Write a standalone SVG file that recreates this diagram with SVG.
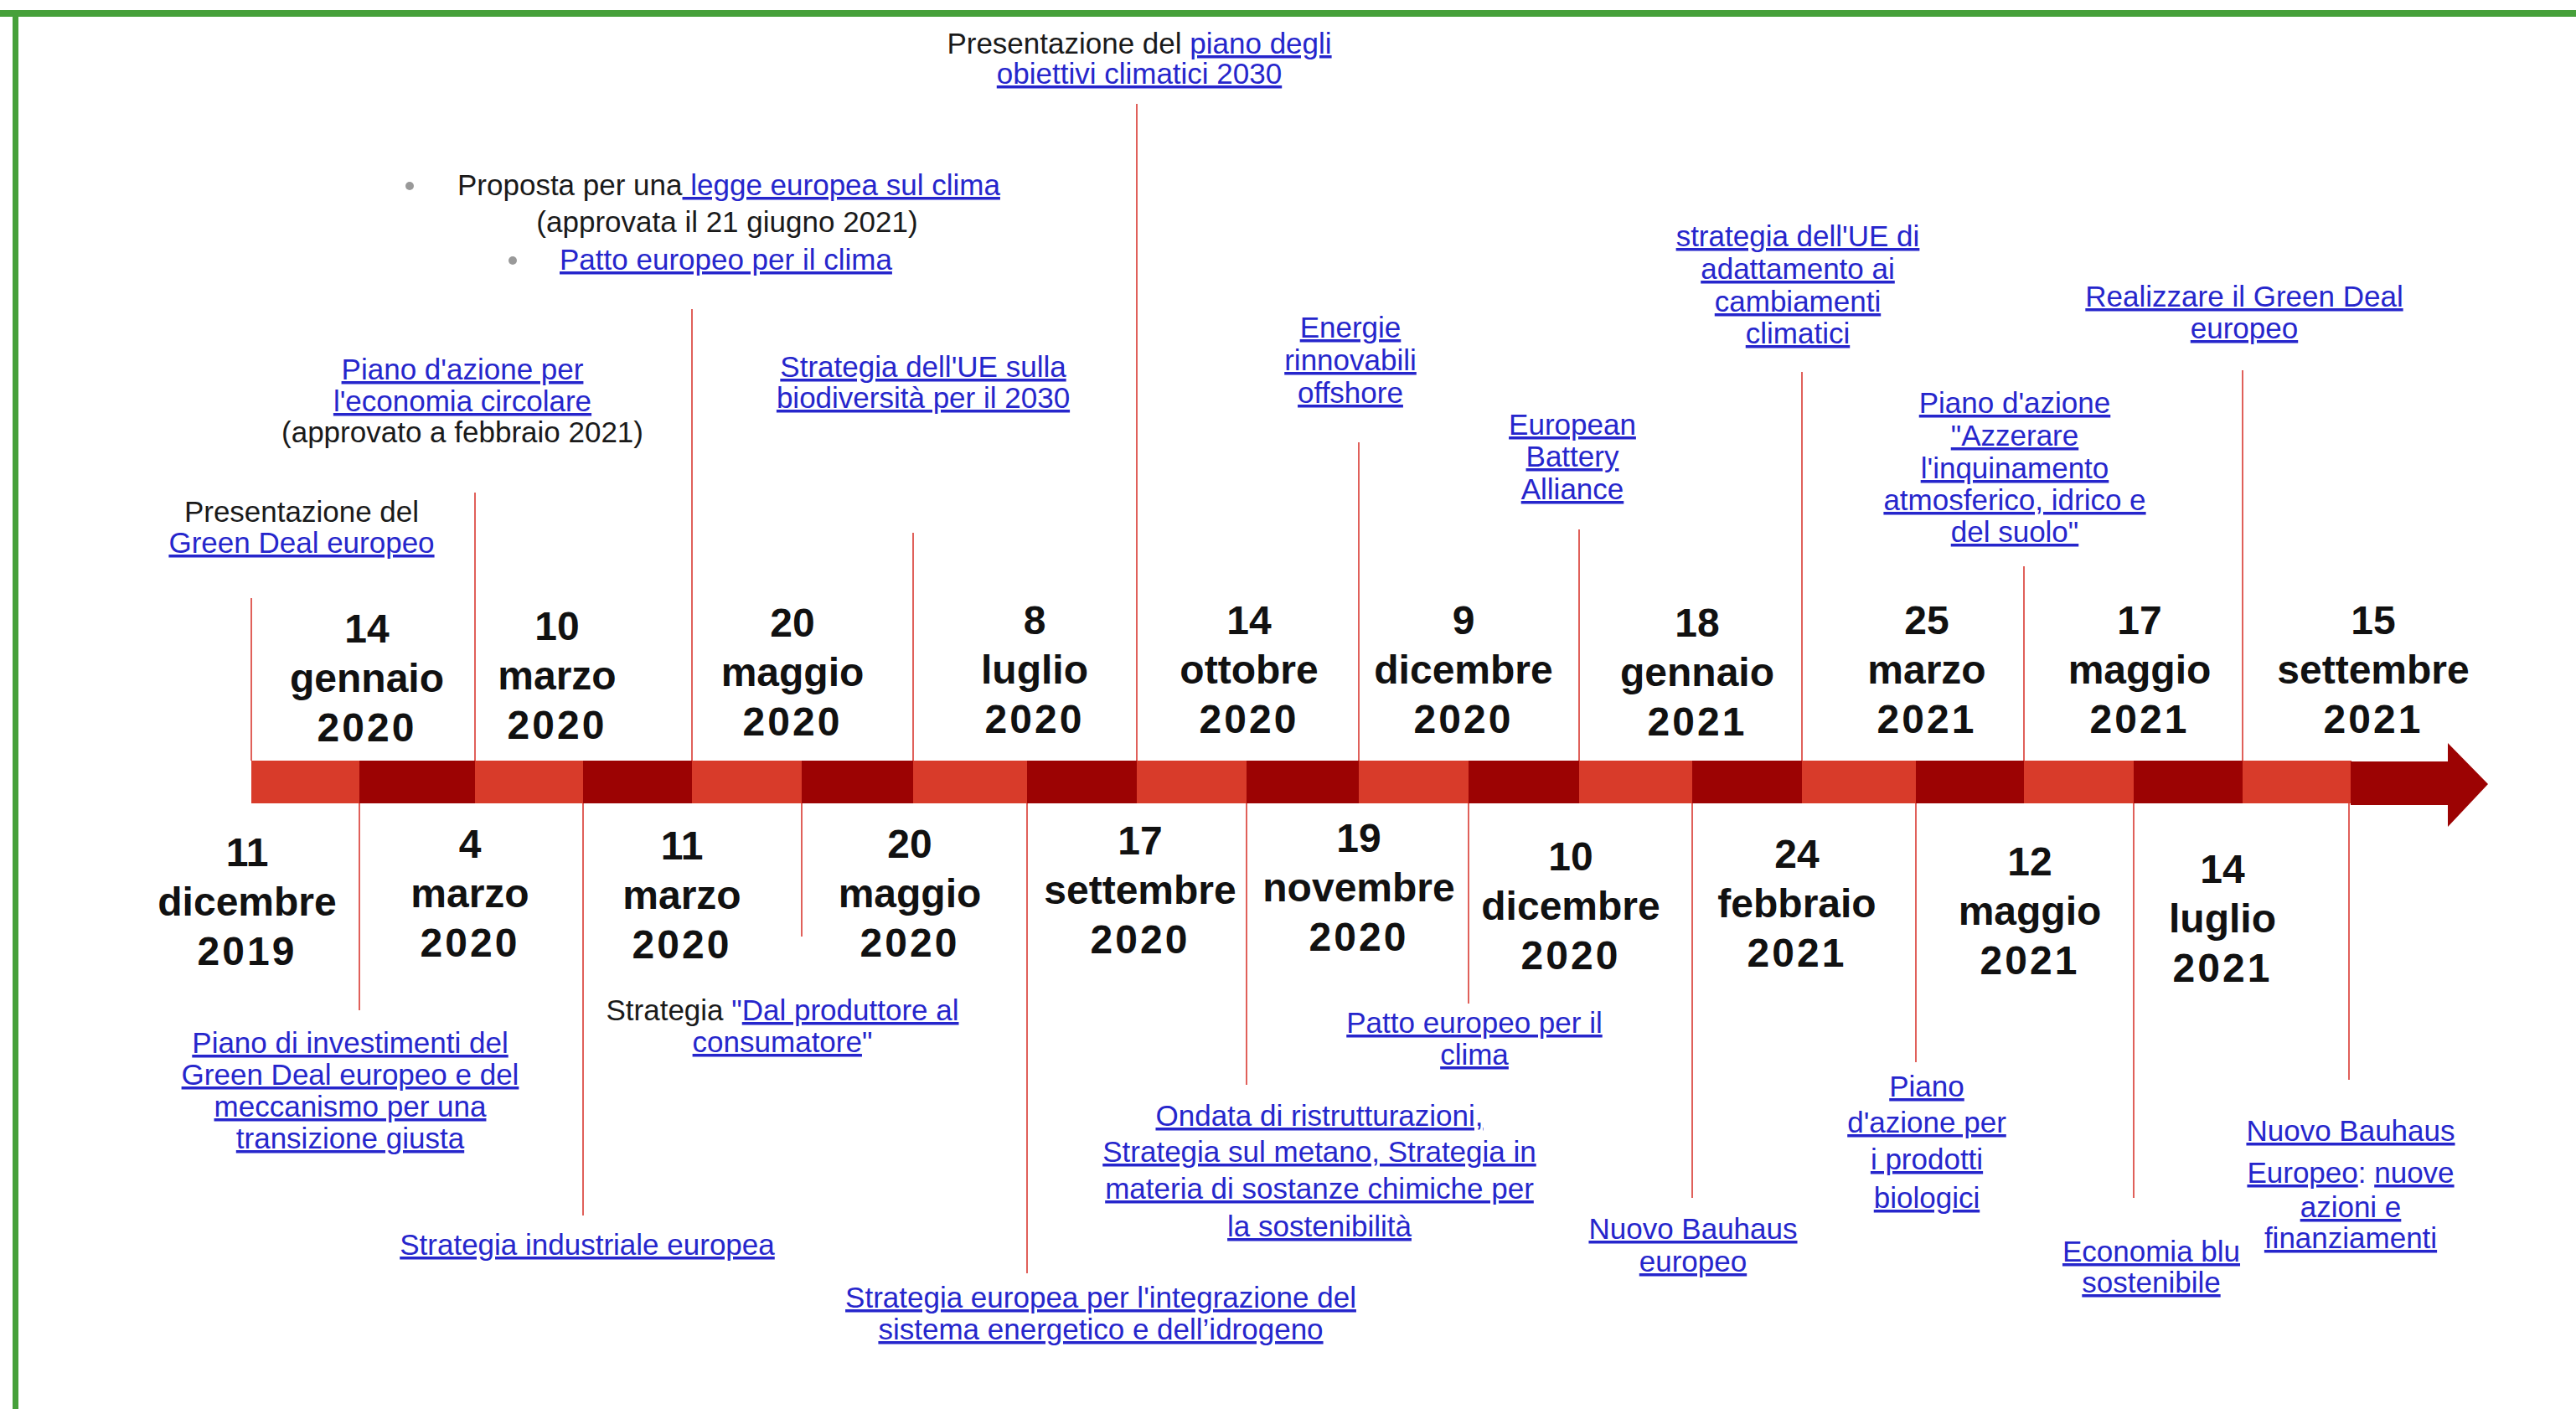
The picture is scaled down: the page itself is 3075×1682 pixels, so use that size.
<svg xmlns="http://www.w3.org/2000/svg" width="3075" height="1682" viewBox="0 0 3075 1682">
<style>
.d{font-family:"Liberation Sans",Arial,sans-serif;font-weight:bold;font-size:48px;fill:#111;text-anchor:middle}
.y{letter-spacing:3px}
.t{font-family:"Liberation Sans",Arial,sans-serif;font-size:35px;fill:#1a1a1a;text-anchor:middle}
.s{text-anchor:start}
.l{fill:#2626cc;text-decoration:underline}
.q{fill:#2626cc}
.tick{stroke:#e0605a;stroke-width:2;fill:none}
.lt{fill:#d83b2a}
.dk{fill:#9c0303}
</style>
<rect width="3075" height="1682" fill="#fff"/>
<g id="frame" fill="#46a03a">
<rect x="0" y="12" width="3075" height="8"/>
<rect x="15" y="12" width="7" height="1670"/>
</g>
<g id="timeline-bar">
<rect class="lt" x="300" y="908" width="130" height="51"/>
<rect class="dk" x="429" y="908" width="139" height="51"/>
<rect class="lt" x="567" y="908" width="130" height="51"/>
<rect class="dk" x="696" y="908" width="131" height="51"/>
<rect class="lt" x="826" y="908" width="132" height="51"/>
<rect class="dk" x="957" y="908" width="134" height="51"/>
<rect class="lt" x="1090" y="908" width="137" height="51"/>
<rect class="dk" x="1226" y="908" width="132" height="51"/>
<rect class="lt" x="1357" y="908" width="132" height="51"/>
<rect class="dk" x="1488" y="908" width="135" height="51"/>
<rect class="lt" x="1622" y="908" width="132" height="51"/>
<rect class="dk" x="1753" y="908" width="133" height="51"/>
<rect class="lt" x="1885" y="908" width="136" height="51"/>
<rect class="dk" x="2020" y="908" width="132" height="51"/>
<rect class="lt" x="2151" y="908" width="137" height="51"/>
<rect class="dk" x="2287" y="908" width="130" height="51"/>
<rect class="lt" x="2416" y="908" width="132" height="51"/>
<rect class="dk" x="2547" y="908" width="131" height="51"/>
<rect class="lt" x="2677" y="908" width="130" height="51"/>
<polygon class="dk" points="2806,909 2922,909 2922,887 2970,936 2922,987 2922,961 2806,961"/>
</g>
<g id="connectors">
<line class="tick" x1="300" y1="908" x2="300" y2="714"/>
<line class="tick" x1="429" y1="959" x2="429" y2="1206"/>
<line class="tick" x1="567" y1="908" x2="567" y2="588"/>
<line class="tick" x1="696" y1="959" x2="696" y2="1451"/>
<line class="tick" x1="826" y1="908" x2="826" y2="369"/>
<line class="tick" x1="957" y1="959" x2="957" y2="1118"/>
<line class="tick" x1="1090" y1="908" x2="1090" y2="636"/>
<line class="tick" x1="1226" y1="959" x2="1226" y2="1520"/>
<line class="tick" x1="1357" y1="908" x2="1357" y2="124"/>
<line class="tick" x1="1488" y1="959" x2="1488" y2="1295"/>
<line class="tick" x1="1622" y1="908" x2="1622" y2="528"/>
<line class="tick" x1="1753" y1="959" x2="1753" y2="1198"/>
<line class="tick" x1="1885" y1="908" x2="1885" y2="632"/>
<line class="tick" x1="2020" y1="959" x2="2020" y2="1430"/>
<line class="tick" x1="2151" y1="908" x2="2151" y2="444"/>
<line class="tick" x1="2287" y1="959" x2="2287" y2="1268"/>
<line class="tick" x1="2416" y1="908" x2="2416" y2="676"/>
<line class="tick" x1="2547" y1="959" x2="2547" y2="1430"/>
<line class="tick" x1="2677" y1="908" x2="2677" y2="442"/>
<line class="tick" x1="2804" y1="959" x2="2804" y2="1289"/>
</g>

<g id="ev-2019-12-11">
<text class="d" x="295" y="1034">11<tspan x="295" dy="59">dicembre</tspan><tspan class="y" x="295" dy="59">2019</tspan></text>
<text class="t" x="360" y="623">Presentazione del<tspan x="360" dy="37" class="l">Green Deal europeo</tspan></text>
</g>
<g id="ev-2020-01-14">
<text class="d" x="438" y="767">14<tspan x="438" dy="59">gennaio</tspan><tspan class="y" x="438" dy="59">2020</tspan></text>
<text class="t" x="418" y="1257"><tspan class="l">Piano di investimenti del</tspan><tspan x="418" dy="38" class="l">Green Deal europeo e del</tspan><tspan x="418" dy="38" class="l">meccanismo per una</tspan><tspan x="418" dy="38" class="l">transizione giusta</tspan></text>
</g>
<g id="ev-2020-03-04">
<text class="d" x="561" y="1024">4<tspan x="561" dy="59">marzo</tspan><tspan class="y" x="561" dy="59">2020</tspan></text>
<text class="t" x="552" y="453"><tspan class="l">Piano d'azione per</tspan><tspan x="552" dy="38" class="l">l'economia circolare</tspan><tspan x="552" dy="37">(approvato a febbraio 2021)</tspan></text>
</g>
<g id="ev-2020-03-10">
<text class="d" x="665" y="764">10<tspan x="665" dy="59">marzo</tspan><tspan class="y" x="665" dy="59">2020</tspan></text>
<text class="t" x="701" y="1498"><tspan class="l">Strategia industriale europea</tspan></text>
</g>
<g id="ev-2020-03-11">
<text class="d" x="814" y="1026">11<tspan x="814" dy="59">marzo</tspan><tspan class="y" x="814" dy="59">2020</tspan></text>
<circle cx="489" cy="222" r="5" fill="#999"/>
<circle cx="612" cy="311" r="5" fill="#999"/>
<text class="t s" x="546" y="233">Proposta per una<tspan class="l"> legge europea sul clima</tspan></text>
<text class="t" x="868" y="277">(approvata il 21 giugno 2021)</text>
<text class="t s" x="668" y="322"><tspan class="l">Patto europeo per il clima</tspan></text>
</g>
<g id="ev-2020-05-20a">
<text class="d" x="946" y="760">20<tspan x="946" dy="59">maggio</tspan><tspan class="y" x="946" dy="59">2020</tspan></text>
<text class="t" x="934" y="1218">Strategia <tspan class="q">"</tspan><tspan class="l">Dal produttore al</tspan><tspan x="934" dy="38" class="l">consumatore</tspan><tspan class="q">"</tspan></text>
</g>
<g id="ev-2020-05-20b">
<text class="d" x="1086" y="1024">20<tspan x="1086" dy="59">maggio</tspan><tspan class="y" x="1086" dy="59">2020</tspan></text>
<text class="t" x="1102" y="450"><tspan class="l">Strategia dell'UE sulla</tspan><tspan x="1102" dy="37" class="l">biodiversità per il 2030</tspan></text>
</g>
<g id="ev-2020-07-08">
<text class="d" x="1235" y="757">8<tspan x="1235" dy="59">luglio</tspan><tspan class="y" x="1235" dy="59">2020</tspan></text>
<text class="t" x="1314" y="1561"><tspan class="l">Strategia europea per l'integrazione del</tspan><tspan x="1314" dy="38" class="l">sistema energetico e dell’idrogeno</tspan></text>
</g>
<g id="ev-2020-09-17">
<text class="d" x="1361" y="1020">17<tspan x="1361" dy="59">settembre</tspan><tspan class="y" x="1361" dy="59">2020</tspan></text>
<text class="t" x="1360" y="64">Presentazione del <tspan class="l">piano degli</tspan><tspan x="1360" dy="36" class="l">obiettivi climatici 2030</tspan></text>
</g>
<g id="ev-2020-10-14">
<text class="d" x="1491" y="757">14<tspan x="1491" dy="59">ottobre</tspan><tspan class="y" x="1491" dy="59">2020</tspan></text>
<text class="t" x="1575" y="1344"><tspan class="l">Ondata di ristrutturazioni,</tspan><tspan x="1575" dy="43" class="l">Strategia sul metano, Strategia in</tspan><tspan x="1575" dy="44" class="l">materia di sostanze chimiche per</tspan><tspan x="1575" dy="45" class="l">la sostenibilità</tspan></text>
</g>
<g id="ev-2020-11-19">
<text class="d" x="1622" y="1017">19<tspan x="1622" dy="59">novembre</tspan><tspan class="y" x="1622" dy="59">2020</tspan></text>
<text class="t" x="1612" y="403"><tspan class="l">Energie</tspan><tspan x="1612" dy="39" class="l">rinnovabili</tspan><tspan x="1612" dy="39" class="l">offshore</tspan></text>
</g>
<g id="ev-2020-12-09">
<text class="d" x="1747" y="757">9<tspan x="1747" dy="59">dicembre</tspan><tspan class="y" x="1747" dy="59">2020</tspan></text>
<text class="t" x="1760" y="1233"><tspan class="l">Patto europeo per il</tspan><tspan x="1760" dy="38" class="l">clima</tspan></text>
</g>
<g id="ev-2020-12-10">
<text class="d" x="1875" y="1039">10<tspan x="1875" dy="59">dicembre</tspan><tspan class="y" x="1875" dy="59">2020</tspan></text>
<text class="t" x="1877" y="519"><tspan class="l">European</tspan><tspan x="1877" dy="38" class="l">Battery</tspan><tspan x="1877" dy="39" class="l">Alliance</tspan></text>
</g>
<g id="ev-2021-01-18">
<text class="d" x="2026" y="760">18<tspan x="2026" dy="59">gennaio</tspan><tspan class="y" x="2026" dy="59">2021</tspan></text>
<text class="t" x="2021" y="1479"><tspan class="l">Nuovo Bauhaus</tspan><tspan x="2021" dy="39" class="l">europeo</tspan></text>
</g>
<g id="ev-2021-02-24">
<text class="d" x="2145" y="1036">24<tspan x="2145" dy="59">febbraio</tspan><tspan class="y" x="2145" dy="59">2021</tspan></text>
<text class="t" x="2146" y="294"><tspan class="l">strategia dell'UE di</tspan><tspan x="2146" dy="39" class="l">adattamento ai</tspan><tspan x="2146" dy="39" class="l">cambiamenti</tspan><tspan x="2146" dy="38" class="l">climatici</tspan></text>
</g>
<g id="ev-2021-03-25">
<text class="d" x="2300" y="757">25<tspan x="2300" dy="59">marzo</tspan><tspan class="y" x="2300" dy="59">2021</tspan></text>
<text class="t" x="2300" y="1309"><tspan class="l">Piano</tspan><tspan x="2300" dy="43" class="l">d'azione per</tspan><tspan x="2300" dy="44" class="l">i prodotti</tspan><tspan x="2300" dy="46" class="l">biologici</tspan></text>
</g>
<g id="ev-2021-05-12">
<text class="d" x="2423" y="1045">12<tspan x="2423" dy="59">maggio</tspan><tspan class="y" x="2423" dy="59">2021</tspan></text>
<text class="t" x="2405" y="493"><tspan class="l">Piano d'azione</tspan><tspan x="2405" dy="39" class="l">"Azzerare</tspan><tspan x="2405" dy="39" class="l">l'inquinamento</tspan><tspan x="2405" dy="38" class="l">atmosferico, idrico e</tspan><tspan x="2405" dy="38" class="l">del suolo"</tspan></text>
</g>
<g id="ev-2021-05-17">
<text class="d" x="2554" y="757">17<tspan x="2554" dy="59">maggio</tspan><tspan class="y" x="2554" dy="59">2021</tspan></text>
<text class="t" x="2568" y="1506"><tspan class="l">Economia blu</tspan><tspan x="2568" dy="37" class="l">sostenibile</tspan></text>
</g>
<g id="ev-2021-07-14">
<text class="d" x="2653" y="1054">14<tspan x="2653" dy="59">luglio</tspan><tspan class="y" x="2653" dy="59">2021</tspan></text>
<text class="t" x="2679" y="366"><tspan class="l">Realizzare il Green Deal</tspan><tspan x="2679" dy="38" class="l">europeo</tspan></text>
</g>
<g id="ev-2021-09-15">
<text class="d" x="2833" y="757">15<tspan x="2833" dy="59">settembre</tspan><tspan class="y" x="2833" dy="59">2021</tspan></text>
<text class="t" x="2806" y="1362"><tspan class="l">Nuovo Bauhaus</tspan><tspan x="2806" dy="50" class="l">Europeo</tspan><tspan class="q">: </tspan><tspan class="l">nuove</tspan><tspan x="2806" dy="41" class="l">azioni e</tspan><tspan x="2806" dy="37" class="l">finanziamenti</tspan></text>
</g>
</svg>
